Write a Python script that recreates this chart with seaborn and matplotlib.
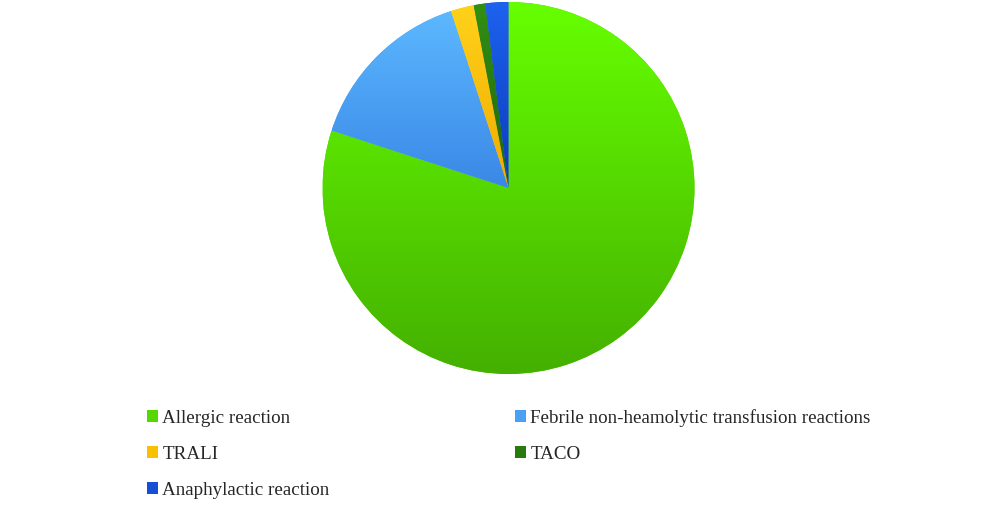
import numpy as np
import matplotlib
matplotlib.use("Agg")
import matplotlib.pyplot as plt
from matplotlib.patches import Patch
from matplotlib.colors import LinearSegmentedColormap
import seaborn as sns

# reaction types, share of all reactions (%)
categories = ["Allergic reaction", "Febrile non-heamolytic transfusion reactions",
              "TRALI", "TACO", "Anaphylactic reaction"]
shares = [80, 15, 2, 1, 2]

# light (top) -> dark (bottom) shading of each slice
top_colors = ["#66ff00", "#5cb8ff", "#ffd21a", "#338f14", "#1e62ee"]
bottom_colors = ["#44b000", "#3a88e6", "#f0aa00", "#1e660a", "#0a3cbc"]
mid_colors = ["#55d800", "#4aa0f4", "#f8c000", "#287a0e", "#144fd6"]

sns.set_theme(style="white")
plt.rcParams["font.family"] = ["Liberation Serif", "DejaVu Serif"]

fig = plt.figure(figsize=(10, 5.07), dpi=100)
cx, cy, r = 508.5, 188, 186
ax = fig.add_axes([(cx - r) / 1000, (507 - cy - r) / 507, 2 * r / 1000, 2 * r / 507])

wedges, _ = ax.pie(shares, startangle=90, counterclock=False, radius=1,
                   colors=mid_colors, wedgeprops=dict(linewidth=0))
ax.axis("off")

# vertical gradient per slice, clipped to the wedge
grad = np.linspace(0, 1, 256).reshape(-1, 1)
for w, c0, c1 in zip(wedges, top_colors, bottom_colors):
    ext = w.get_path().get_extents()
    cmap = LinearSegmentedColormap.from_list("g", [c0, c1])
    im = ax.imshow(grad, cmap=cmap, aspect="auto", origin="upper",
                   extent=[ext.x0, ext.x1, ext.y0, ext.y1], zorder=2)
    im.set_clip_path(w)
ax.set_xlim(-1, 1)
ax.set_ylim(-1, 1)

# legend laid out row-wise like the original (matplotlib fills columns first)
order = [0, 2, 4, 1, 3]
handles = [Patch(facecolor=mid_colors[i], edgecolor="none") for i in order]
labels = [categories[i] for i in order]
fig.legend(handles, labels, ncol=2, loc="upper left",
           bbox_to_anchor=(0.147, 1 - 409 / 507), frameon=False,
           fontsize=13.7, handlelength=0.58, handleheight=0.58,
           handletextpad=0.22, labelspacing=1.0, columnspacing=9.75,
           borderpad=0, borderaxespad=0)

fig.savefig("out.png", dpi=100)
